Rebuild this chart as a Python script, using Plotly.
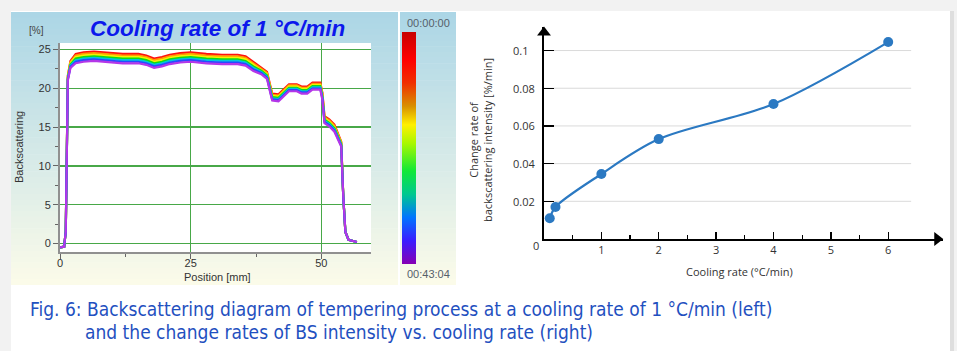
import plotly.graph_objects as go

W, H = 957, 351

# ---------------- Left chart: backscattering profiles (t = 00:00:00 ... 00:43:04)
position_mm = [-0.3, 0.8, 0.9, 1.1, 1.5, 2.0, 3.0, 4.5, 6.5, 9.0, 12.0, 15.0, 16.5, 18.0, 19.5,
               21.0, 23.0, 25.0, 28.0, 31.0, 34.0, 35.5, 37.0, 38.5, 39.6, 40.2, 40.6, 41.8, 42.8,
               43.8, 45.3, 46.2, 47.3, 48.3, 49.8, 50.2, 50.6, 51.5, 52.5, 53.3, 53.8, 54.2, 54.6,
               55.2, 56.8]

bs_red = [-0.5, -0.4, 0.3, 1.5, 21.6, 23.5, 24.4, 24.6, 24.7, 24.6, 24.4, 24.4, 24.2, 23.8, 24.0,
          24.3, 24.5, 24.6, 24.4, 24.3, 24.3, 24.1, 23.4, 22.7, 22.1, 20.4, 19.3, 19.2, 19.9, 20.5,
          20.5, 20.2, 20.2, 20.7, 20.7, 19.4, 16.4, 16.0, 15.3, 13.9, 13.1, 6.0, 1.5, 0.5, 0.2]
bs_orange = [-0.5, -0.4, 0.3, 1.5, 21.5, 23.35, 24.2, 24.4, 24.5, 24.4, 24.2, 24.2, 24.0, 23.6, 23.8,
             24.1, 24.3, 24.4, 24.2, 24.1, 24.1, 23.9, 23.2, 22.55, 21.95, 20.25, 19.15, 19.05, 19.75,
             20.35, 20.35, 20.05, 20.05, 20.55, 20.55, 19.25, 16.25, 15.85, 15.15, 13.8, 13.0, 6.0,
             1.5, 0.5, 0.2]
bs_yellow = [-0.5, -0.4, 0.3, 1.5, 21.4, 23.2, 24.0, 24.2, 24.3, 24.2, 24.0, 24.0, 23.8, 23.4, 23.6,
             23.9, 24.1, 24.2, 24.0, 23.9, 23.9, 23.7, 23.0, 22.4, 21.8, 20.1, 19.0, 18.9, 19.6, 20.2,
             20.2, 19.9, 19.9, 20.4, 20.4, 19.1, 16.1, 15.7, 15.0, 13.7, 12.9, 6.0, 1.5, 0.5, 0.2]
bs_green = [-0.5, -0.4, 0.3, 1.5, 21.3, 23.05, 23.8, 24.0, 24.1, 24.0, 23.8, 23.8, 23.6, 23.2, 23.4,
            23.7, 23.9, 24.0, 23.8, 23.7, 23.7, 23.5, 22.8, 22.25, 21.65, 19.95, 18.85, 18.75, 19.45,
            20.05, 20.05, 19.75, 19.75, 20.25, 20.25, 18.95, 15.95, 15.55, 14.85, 13.6, 12.8, 6.0,
            1.5, 0.5, 0.2]
bs_cyan = [-0.5, -0.4, 0.3, 1.5, 21.2, 22.9, 23.6, 23.8, 23.9, 23.8, 23.6, 23.6, 23.4, 23.0, 23.2,
           23.5, 23.7, 23.8, 23.6, 23.5, 23.5, 23.3, 22.6, 22.1, 21.5, 19.8, 18.7, 18.6, 19.3, 19.9,
           19.9, 19.6, 19.6, 20.1, 20.1, 18.8, 15.8, 15.4, 14.7, 13.5, 12.7, 6.0, 1.5, 0.5, 0.2]
bs_blue = [-0.5, -0.4, 0.3, 1.5, 21.1, 22.75, 23.4, 23.6, 23.7, 23.6, 23.4, 23.4, 23.2, 22.8, 23.0,
           23.3, 23.5, 23.6, 23.4, 23.3, 23.3, 23.1, 22.4, 21.95, 21.35, 19.65, 18.55, 18.45, 19.15,
           19.75, 19.75, 19.45, 19.45, 19.95, 19.95, 18.65, 15.65, 15.25, 14.55, 13.4, 12.6, 6.0,
           1.5, 0.5, 0.2]
bs_violet = [-0.5, -0.4, 0.3, 1.5, 21.0, 22.6, 23.2, 23.4, 23.5, 23.4, 23.2, 23.2, 23.0, 22.6, 22.8,
             23.1, 23.3, 23.4, 23.2, 23.1, 23.1, 22.9, 22.2, 21.8, 21.2, 19.5, 18.4, 18.3, 19.0, 19.6,
             19.6, 19.3, 19.3, 19.8, 19.8, 18.5, 15.5, 15.1, 14.4, 13.3, 12.5, 6.0, 1.5, 0.5, 0.2]

left_yticks = [0, 5, 10, 15, 20, 25]
left_xticks = [0, 25, 50]
time_labels = ["00:00:00", "00:43:04"]

# ---------------- Right chart: change rate vs cooling rate
cooling_rate = [0.1, 0.2, 1, 2, 4, 6]
bs_change_rate = [0.011, 0.017, 0.0345, 0.053, 0.0716, 0.1045]
rate_yticks = [0.02, 0.04, 0.06, 0.08, 0.1]
rate_ytick_labels = ["0.02", "0.04", "0.06", "0.08", "0.1"]
rate_xticks = [1, 2, 3, 4, 5, 6]

caption_1 = "Fig. 6: Backscattering diagram of tempering process at a cooling rate of 1 °C/min (left)"
caption_2 = "and the change rates of BS intensity vs. cooling rate (right)"


def px(x):
    return x / W


def py(y):
    return 1 - y / H


fig = go.Figure()

# rainbow curves (red drawn first, violet last on top)
curves = [(bs_red, "#ff1010"), (bs_orange, "#ff9a00"), (bs_yellow, "#f2f200"),
          (bs_green, "#10dc10"), (bs_cyan, "#00c4e0"), (bs_blue, "#2848ff"),
          (bs_violet, "#b436e8")]
for vals, col in curves:
    fig.add_trace(go.Scatter(x=position_mm, y=vals, mode="lines",
                             line=dict(color=col, width=2.2), xaxis="x", yaxis="y",
                             hoverinfo="skip"))

# colour ramp (time scale)
rainbow = [[0.0, "#8600b4"], [0.1, "#3a1cff"], [0.2, "#0074ff"], [0.3, "#00c890"],
           [0.4, "#10e838"], [0.52, "#a8f800"], [0.6, "#fff000"], [0.68, "#d89000"],
           [0.78, "#f03000"], [0.88, "#ff0000"], [1.0, "#c80000"]]
fig.add_trace(go.Scatter(x=[None, None], y=[None, None], mode="markers", xaxis="x", yaxis="y",
                         marker=dict(color=[0, 1], cmin=0, cmax=1, colorscale=rainbow,
                                     showscale=True,
                                     colorbar=dict(x=px(402.3), xanchor="left", xpad=0, ypad=0,
                                                   y=py(148), yanchor="middle",
                                                   lenmode="pixels", len=232,
                                                   thicknessmode="pixels", thickness=14.4,
                                                   outlinewidth=0, ticks="",
                                                   showticklabels=False)),
                         hoverinfo="skip"))

# right chart gridlines
gx, gy = [], []
for t in rate_yticks:
    gx += [0, 6.4, None]
    gy += [t, t, None]
fig.add_trace(go.Scatter(x=gx, y=gy, mode="lines", line=dict(color="#dadada", width=1),
                         xaxis="x2", yaxis="y2", hoverinfo="skip"))

# right chart data
fig.add_trace(go.Scatter(x=cooling_rate, y=bs_change_rate, mode="lines+markers",
                         line=dict(color="#2b79c2", width=2.2, shape="spline", smoothing=0.9),
                         marker=dict(color="#2b79c2", size=10),
                         xaxis="x2", yaxis="y2"))

# axis arrowheads
fig.add_trace(go.Scatter(x=[0], y=[0.1096], mode="markers", xaxis="x2", yaxis="y2",
                         marker=dict(symbol="triangle-up", size=12, color="black"),
                         cliponaxis=False, hoverinfo="skip"))
fig.add_trace(go.Scatter(x=[6.855], y=[0], mode="markers", xaxis="x2", yaxis="y2",
                         marker=dict(symbol="triangle-right", size=12, color="black"),
                         cliponaxis=False, hoverinfo="skip"))

# ---------------- background shapes
shapes = []
# card
shapes.append(dict(type="rect", xref="paper", yref="paper", x0=px(950), x1=px(954),
                   y0=py(351), y1=py(11), fillcolor="#dedede", line_width=0, layer="below"))
shapes.append(dict(type="rect", xref="paper", yref="paper", x0=px(11), x1=px(950),
                   y0=py(351), y1=py(11), fillcolor="white", line_width=0, layer="below"))
# gradient panels (left chart and colour bar)
top_c = (172, 214, 230)
bot_c = (251, 251, 233)
n_band = 48
y_top, y_bot = 12, 285
for i in range(n_band):
    f = i / (n_band - 1)
    c = tuple(round(top_c[k] + (bot_c[k] - top_c[k]) * f) for k in range(3))
    col = "rgb(%d,%d,%d)" % c
    ya = y_top + (y_bot - y_top) * i / n_band
    yb = y_top + (y_bot - y_top) * (i + 1) / n_band + 0.6
    for xa, xb in [(11, 398), (400, 456)]:
        shapes.append(dict(type="rect", xref="paper", yref="paper", x0=px(xa), x1=px(xb),
                           y0=py(min(yb, y_bot)), y1=py(ya), fillcolor=col, line_width=0,
                           layer="below"))
# white plot area of left chart
shapes.append(dict(type="rect", xref="paper", yref="paper", x0=px(60), x1=px(371),
                   y0=py(252), y1=py(43), fillcolor="white", line_width=0, layer="below"))
fig.update_layout(shapes=shapes)

# ---------------- annotations
LF = "Liberation Sans, Arial, sans-serif"
RF = "Open Sans, Noto Sans, sans-serif"


def label(x, y, text, font, xanchor="center", angle=0, yref="paper"):
    return dict(x=px(x), y=(py(y) if yref == "paper" else y), xref="paper", yref=yref,
                showarrow=False, text=text, font=font, textangle=angle,
                xanchor=xanchor, yanchor="middle")


ann = []
ann.append(label(217, 28, "<b><i>Cooling rate of 1 °C/min</i></b>",
                 dict(family=LF, size=22.5, color="#0c18ec")))
ann.append(label(36, 30, "[%]", dict(family=LF, size=10, color="#444")))
ann.append(label(19, 147, "Backscattering", dict(family=LF, size=11, color="#333"), angle=-90))
ann.append(label(217, 277, "Position [mm]", dict(family=LF, size=11, color="#333")))
ann.append(label(428, 23, time_labels[0], dict(family=LF, size=11, color="#56606a")))
ann.append(label(428, 274, time_labels[1], dict(family=LF, size=11, color="#56606a")))
# right chart labels
for t, lab in zip(rate_yticks, rate_ytick_labels):
    ann.append(label(511, t, lab, dict(family=RF, size=11, color="#333"), xanchor="left",
                     yref="y2"))
ann.append(label(536, 246, "0", dict(family=RF, size=11, color="#333")))
ann.append(label(480, 140, "Change rate of<br>backscattering intensity [%/min]",
                 dict(family=RF, size=11, color="#333"), angle=-90))
ann.append(label(739, 271, "Cooling rate (°C/min)", dict(family=RF, size=11, color="#333")))
# caption
CF = "Liberation Sans Narrow, DejaVu Sans Condensed, Roboto, sans-serif"
ann.append(label(28, 309, caption_1, dict(family=CF, size=19, color="#1f50c0"), xanchor="left"))
ann.append(label(83, 332, caption_2, dict(family=CF, size=19, color="#1f50c0"), xanchor="left"))

fig.update_layout(
    width=W, height=H, margin=dict(l=0, r=0, t=0, b=0, pad=0, autoexpand=False),
    paper_bgcolor="#f2f2f2", plot_bgcolor="rgba(0,0,0,0)", showlegend=False,
    annotations=ann,
    xaxis=dict(domain=[px(60), px(371)], range=[0, 59.5], tickvals=left_xticks,
               showgrid=True, gridcolor="#48a848", gridwidth=1.3, zeroline=False,
               showline=True, linecolor="#909090", linewidth=2,
               ticks="outside", ticklen=5, tickcolor="#666", tickwidth=1,
               ticklabelstandoff=-5,
               minor=dict(tickvals=[12.5, 37.5], ticks="outside", ticklen=3, tickcolor="#666",
                          showgrid=False),
               tickfont=dict(family=LF, size=11, color="#333"), fixedrange=True,
               automargin=False),
    yaxis=dict(domain=[py(252), py(43)], range=[-1.08, 25.81], tickvals=left_yticks,
               showgrid=True, gridcolor="#48a848", gridwidth=1.3, zeroline=False,
               showline=True, linecolor="#909090", linewidth=2,
               ticks="outside", ticklen=5, tickcolor="#666", tickwidth=1,
               minor=dict(tickvals=[2.5, 7.5, 12.5, 17.5, 22.5], ticks="outside", ticklen=3,
                          tickcolor="#666", showgrid=False),
               tickfont=dict(family=LF, size=11, color="#333"), fixedrange=True,
               automargin=False),
    xaxis2=dict(domain=[px(544), px(942.7)], range=[0, 6.95], anchor="y2",
                tickvals=rate_xticks, showgrid=False, zeroline=False,
                showline=True, linecolor="black", linewidth=1.6,
                ticks="inside", ticklen=7, tickcolor="black", tickwidth=1.4,
                minor=dict(tickvals=[0.5, 1.5, 2.5, 3.5, 4.5, 5.5], ticks="inside", ticklen=4,
                           tickcolor="black", tickwidth=1.2, showgrid=False),
                tickfont=dict(family=RF, size=11, color="#333"), fixedrange=True,
                automargin=False),
    yaxis2=dict(domain=[py(239), py(27)], range=[0, 0.1125], anchor="x2",
                tickvals=rate_yticks, showticklabels=False, showgrid=False, zeroline=False,
                showline=True, linecolor="black", linewidth=1.6,
                ticks="inside", ticklen=10, tickcolor="black", tickwidth=1.4, fixedrange=True,
                automargin=False),
)

fig.write_html(
    "out.html",
    config={"displayModeBar": False, "staticPlot": True},
    post_script="document.body.style.margin='0px';"
                "document.body.style.overflow='hidden';"
                "document.documentElement.style.overflow='hidden';",
)
